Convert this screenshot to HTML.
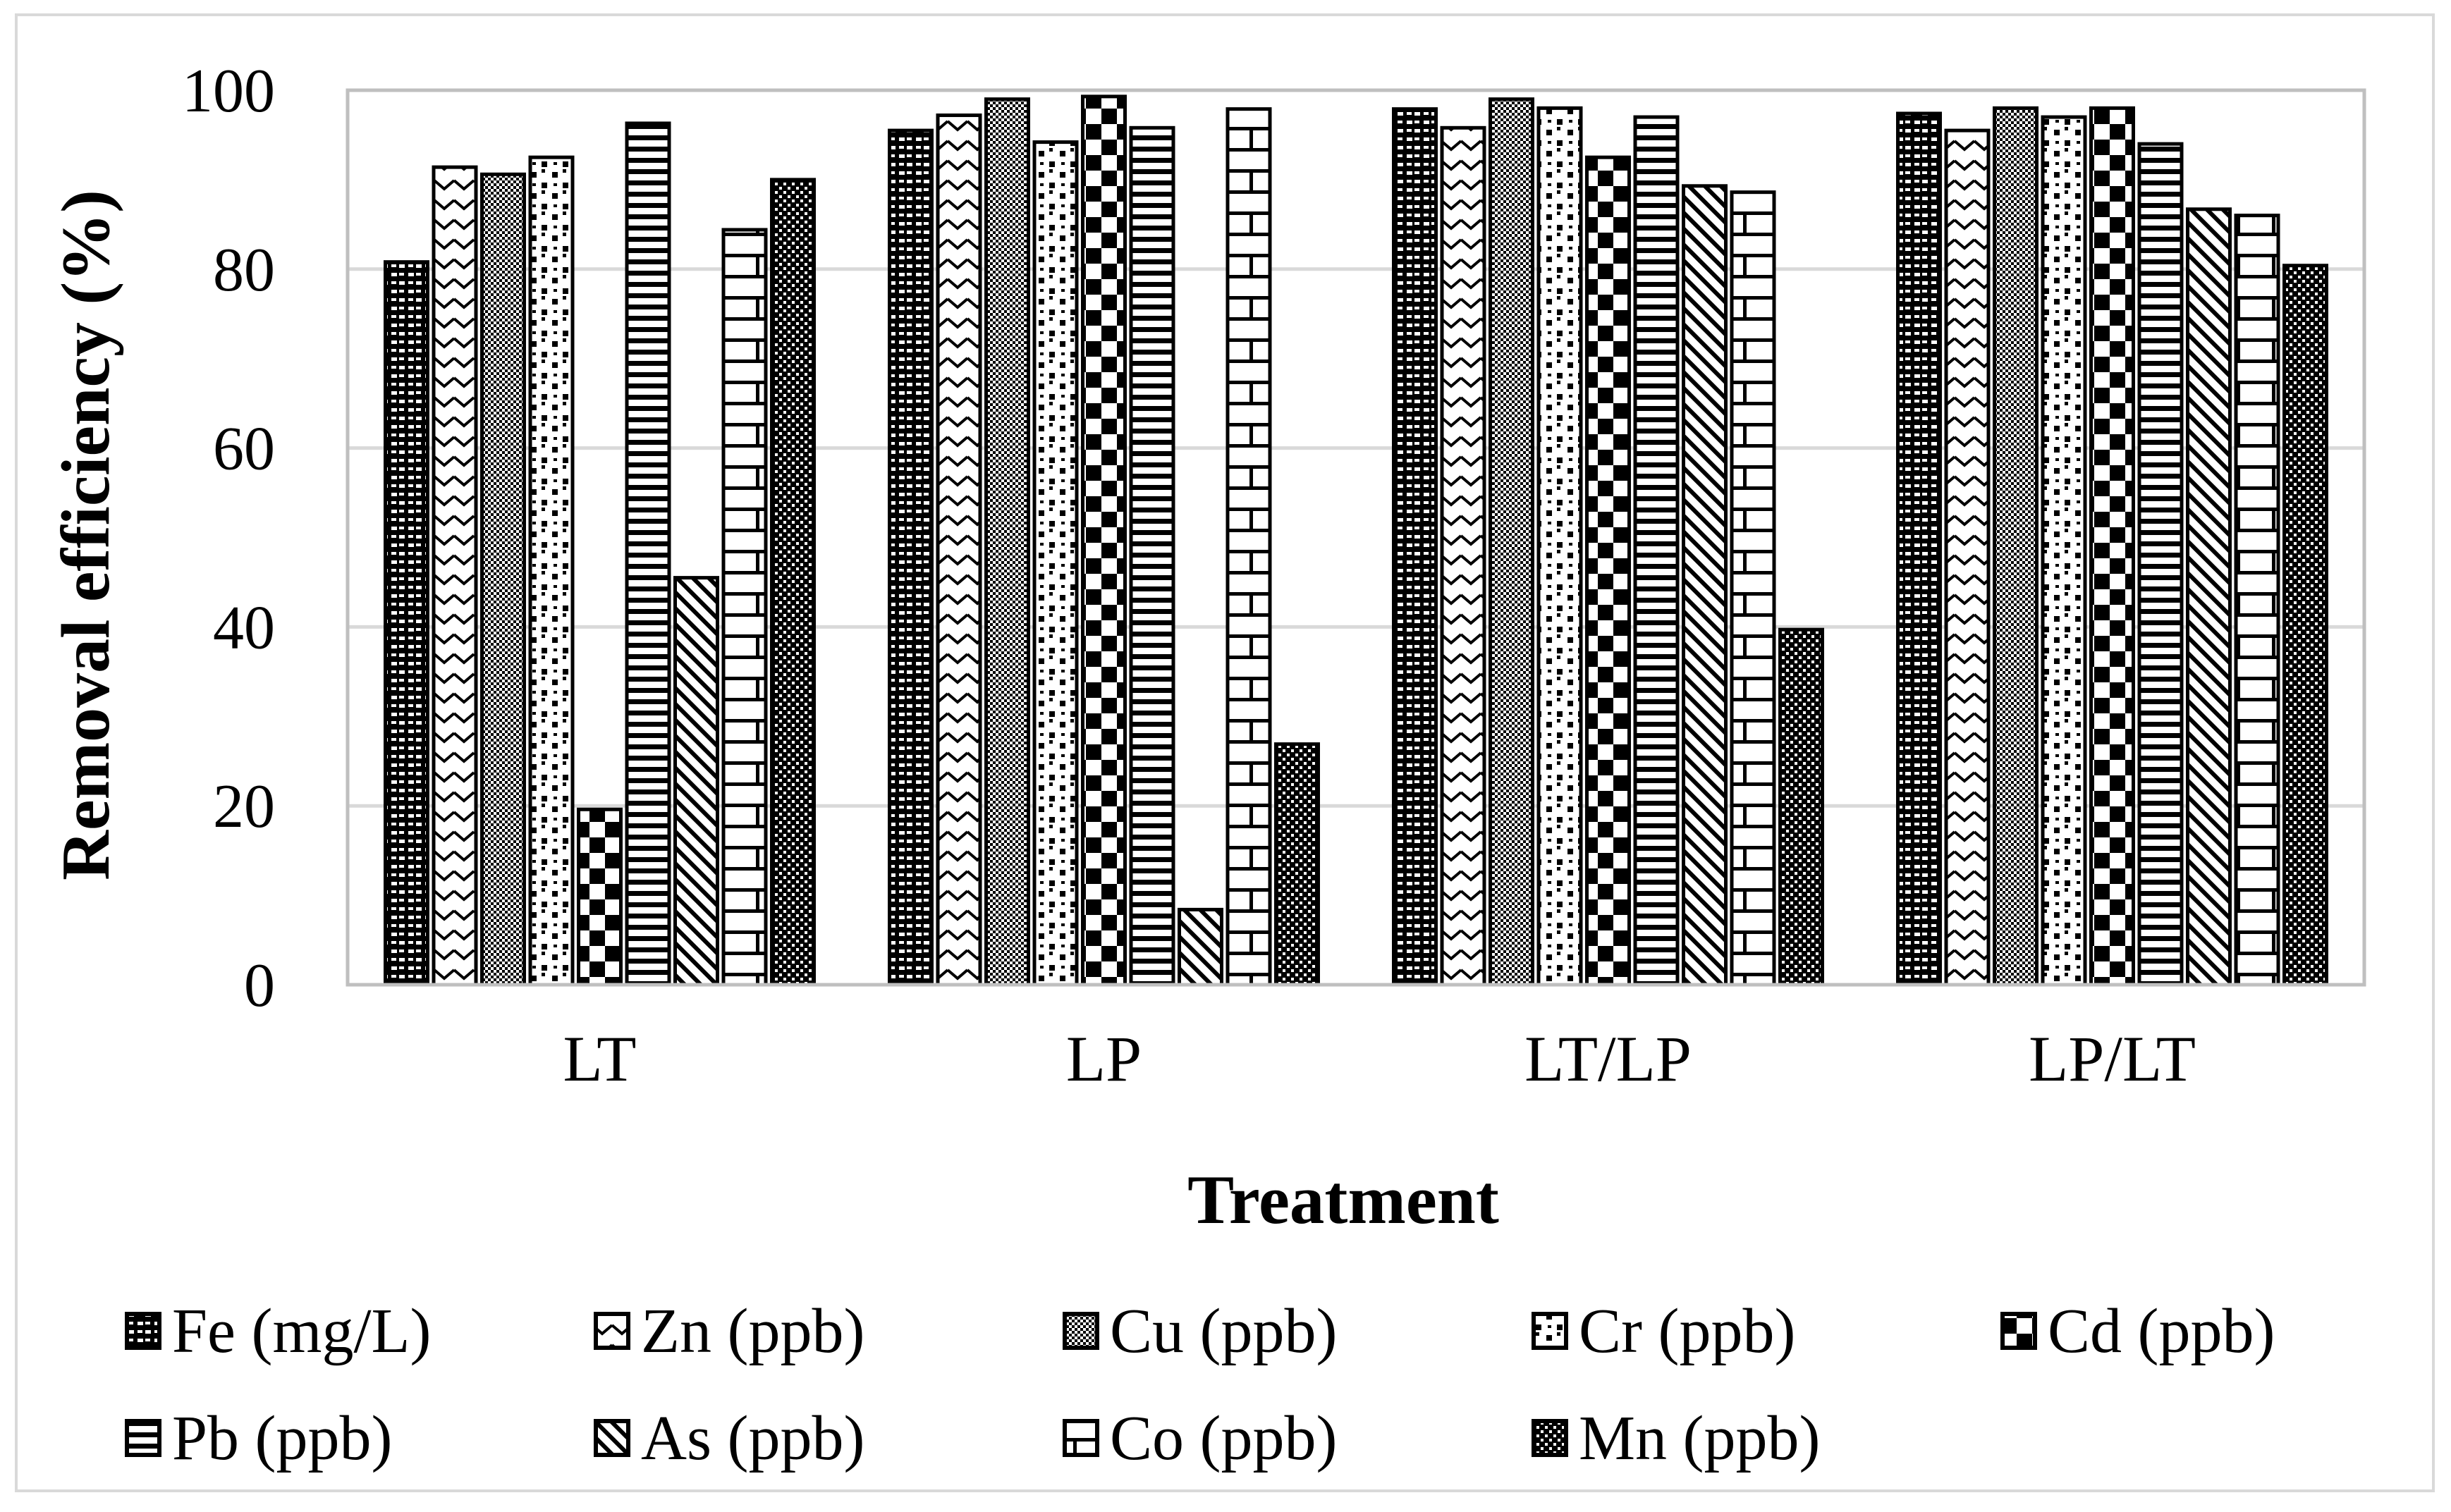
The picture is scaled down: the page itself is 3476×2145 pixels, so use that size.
<!DOCTYPE html>
<html><head><meta charset="utf-8">
<style>
html,body{margin:0;padding:0;background:#fff;}
svg{display:block;}
text{font-family:"Liberation Serif",serif;fill:#000;}
</style></head>
<body>
<svg id="chart" width="3476" height="2145" viewBox="0 0 3476 2145" xmlns="http://www.w3.org/2000/svg">
<defs>
  <pattern id="p0" width="24" height="24" patternUnits="userSpaceOnUse">
    <rect width="24" height="24" fill="#000"/>
    <rect x="3" y="3" width="8" height="5" fill="#fff"/><rect x="14" y="15" width="8" height="5" fill="#fff"/>
    <rect x="14" y="3" width="7" height="4" fill="#fff"/><rect x="3" y="15" width="7" height="4" fill="#fff"/>
  </pattern>
  <pattern id="p1" width="28" height="28" patternUnits="userSpaceOnUse">
    <rect width="28" height="28" fill="#fff"/>
    <polyline points="0,4 14,16 28,4" fill="none" stroke="#000" stroke-width="4"/>
  </pattern>
  <pattern id="p2" width="8" height="8" patternUnits="userSpaceOnUse">
    <rect width="8" height="8" fill="#fff"/><rect width="4" height="4" fill="#000"/><rect x="4" y="4" width="4" height="4" fill="#000"/>
  </pattern>
  <pattern id="p3" width="30" height="30" patternUnits="userSpaceOnUse">
    <rect width="30" height="30" fill="#fff"/>
    <rect x="3" y="4" width="8" height="8" fill="#000"/><rect x="18" y="19" width="8" height="8" fill="#000"/>
    <rect x="18" y="0" width="5" height="5" fill="#000"/><rect x="5" y="20" width="5" height="4" fill="#000"/>
  </pattern>
  <pattern id="p4" width="44" height="44" patternUnits="userSpaceOnUse">
    <rect width="44" height="44" fill="#fff"/><rect width="22" height="22" fill="#000"/><rect x="22" y="22" width="22" height="22" fill="#000"/>
  </pattern>
  <pattern id="p5" width="16" height="16" patternUnits="userSpaceOnUse">
    <rect width="16" height="16" fill="#fff"/><rect y="0" width="16" height="7" fill="#000"/>
  </pattern>
  <pattern id="p6" width="16" height="16" patternUnits="userSpaceOnUse" patternTransform="rotate(-45)">
    <rect width="16" height="16" fill="#fff"/><rect width="6" height="16" fill="#000"/>
  </pattern>
  <pattern id="p7" width="50" height="60" patternUnits="userSpaceOnUse">
    <rect width="50" height="60" fill="#fff"/>
    <rect y="0" width="50" height="5" fill="#000"/><rect y="30" width="50" height="5" fill="#000"/>
    <rect x="22" y="0" width="5" height="30" fill="#000"/>
  </pattern>
  <pattern id="p8" width="12" height="12" patternUnits="userSpaceOnUse">
    <rect width="12" height="12" fill="#000"/>
    <rect x="1" y="1" width="4" height="4" fill="#fff"/><rect x="7" y="7" width="4" height="4" fill="#fff"/>
  </pattern>
</defs>
<rect x="23" y="21" width="3428" height="2094" fill="#fff" stroke="#d9d9d9" stroke-width="4"/>
<g id="grid"></g>
<g id="bars"></g>
<rect x="493" y="128" width="2860" height="1269" fill="none" stroke="#bfbfbf" stroke-width="5"/>
<g id="yticks"></g>
<g id="xticks"></g>
<text x="122" y="759" font-size="98" font-weight="bold" text-anchor="middle" dominant-baseline="central" transform="rotate(-90 122 759)">Removal efficiency (%)</text>
<text x="1905" y="1735" font-size="99" font-weight="bold" text-anchor="middle">Treatment</text>
<g id="legend"></g>
</svg>
<script>
const categories = ["LT", "LP", "LT/LP", "LP/LT"];
const seriesNames = ["Fe (mg/L)", "Zn (ppb)", "Cu (ppb)", "Cr (ppb)", "Cd (ppb)", "Pb (ppb)", "As (ppb)", "Co (ppb)", "Mn (ppb)"];
const fe = [80.8, 95.5, 97.9, 97.4];
const zn = [91.4, 97.2, 95.8, 95.5];
const cu = [90.6, 99.0, 99.0, 98.0];
const cr = [92.5, 94.2, 98.0, 97.0];
const cd = [19.6, 99.3, 92.5, 98.0];
const pb = [96.3, 95.8, 97.0, 94.0];
const as = [45.5, 8.4, 89.3, 86.7];
const co = [84.4, 97.9, 88.6, 86.0];
const mn = [90.0, 26.9, 39.7, 80.4];
const yTicks = [0, 20, 40, 60, 80, 100];

const series = [fe, zn, cu, cr, cd, pb, as, co, mn];
const NS = "http://www.w3.org/2000/svg";
const plotL = 493, plotR = 3353, plotT = 128, plotB = 1397;
const yScale = v => plotB - (v / 100) * (plotB - plotT);
const groupW = (plotR - plotL) / categories.length;
const pitch = 68.5, barW = 60;
const xBar = (c, s) => plotL + groupW * c + groupW / 2 - (series.length * pitch - (pitch - barW)) / 2 + s * pitch;
function mk(tag, attrs, parent) { const e = document.createElementNS(NS, tag); for (const k in attrs) e.setAttribute(k, attrs[k]); parent.appendChild(e); return e; }

const grid = document.getElementById('grid');
const yt = document.getElementById('yticks');
yTicks.forEach(t => {
  if (t > 0 && t < 100) {
    const l = mk('line', {x1: plotL, x2: plotR, y1: yScale(t), y2: yScale(t), stroke: '#d9d9d9', 'stroke-width': 5}, grid);
    
    
  }
  const tx = mk('text', {x: 390, y: yScale(t) + 30, 'font-size': 88, 'text-anchor': 'end'}, yt);
  tx.textContent = t;
  
  
});

const bars = document.getElementById('bars');
series.forEach((vals, s) => {
  vals.forEach((v, c) => {
    const y = yScale(v);
    const r = mk('rect', {x: xBar(c, s), y: y, width: barW, height: plotB - y, fill: 'url(#p' + s + ')', stroke: '#000', 'stroke-width': 5}, bars);
    
    
  });
});

const xt = document.getElementById('xticks');
categories.forEach((c, i) => {
  const tx = mk('text', {x: plotL + groupW * (i + 0.5), y: 1533, 'font-size': 92, 'text-anchor': 'middle'}, xt);
  tx.textContent = c;
  
  
});

const lg = document.getElementById('legend');
seriesNames.forEach((n, i) => {
  const col = i % 5, row = Math.floor(i / 5);
  const x = 180 + col * 665, y = row === 0 ? 1918 : 2070;
  const g = mk('g', {}, lg);
  
  
  const b = mk('rect', {x: x, y: y - 54, width: 46, height: 48, fill: 'url(#p' + i + ')', stroke: '#000', 'stroke-width': 6}, g);
  
  
  const t = mk('text', {x: x + 64, y: y, 'font-size': 90}, g);
  t.textContent = n;
  
  
});
</script>
</body></html>
